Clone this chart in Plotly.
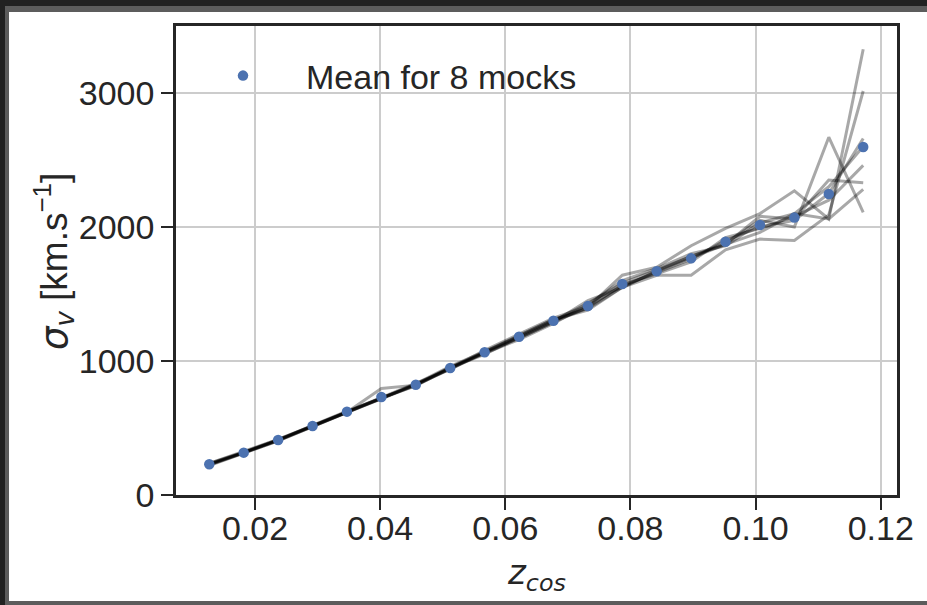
import plotly.graph_objects as go

# Redshift bins (cosmological redshift)
z_cos = [0.0127, 0.0182, 0.0237, 0.0292, 0.0347, 0.0402, 0.0457, 0.0512, 0.0567, 0.0622,
         0.0677, 0.0732, 0.0787, 0.0842, 0.0897, 0.0952, 0.1007, 0.1062, 0.1117, 0.1172]

# Velocity dispersion per mock [km/s]
mock_1 = [220, 310, 405, 512, 618, 795, 820, 940, 1060, 1170, 1290, 1400, 1640, 1700, 1860, 1990, 2100, 2270, 2060, 3326]
mock_2 = [235, 320, 415, 518, 622, 720, 830, 960, 1070, 1190, 1310, 1380, 1550, 1640, 1640, 1830, 1910, 1900, 2090, 3015]
mock_3 = [225, 315, 410, 510, 615, 725, 815, 950, 1050, 1180, 1300, 1430, 1580, 1680, 1780, 1880, 2050, 2000, 2670, 2110]
mock_4 = [230, 318, 408, 520, 625, 722, 825, 945, 1080, 1200, 1320, 1410, 1560, 1660, 1760, 1900, 2000, 2050, 2250, 2660]
mock_5 = [228, 314, 412, 515, 620, 718, 820, 955, 1060, 1160, 1280, 1420, 1600, 1690, 1800, 1860, 2030, 2100, 2300, 2600]
mock_6 = [232, 316, 410, 515, 620, 725, 830, 940, 1070, 1180, 1300, 1400, 1570, 1650, 1740, 1920, 1990, 2080, 2200, 2460]
mock_7 = [226, 312, 405, 512, 618, 722, 825, 950, 1065, 1190, 1310, 1390, 1550, 1670, 1770, 1870, 2080, 2060, 2350, 2330]
mock_8 = [236, 323, 415, 518, 622, 723, 820, 945, 1065, 1170, 1290, 1450, 1550, 1670, 1780, 1870, 1960, 2100, 2060, 2280]
mocks = [mock_1, mock_2, mock_3, mock_4, mock_5, mock_6, mock_7, mock_8]

# Mean over the mocks
sigma_mean = [229, 316, 410, 515, 622, 731, 823, 948, 1065, 1181, 1301, 1410, 1575, 1670, 1766, 1890, 2015, 2070, 2246, 2597]

x_ticks = [0.02, 0.04, 0.06, 0.08, 0.10, 0.12]
y_ticks = [0, 1000, 2000, 3000]

W, H = 927, 605
L, R, T, B = 176, 30, 26, 110
PW, PH = W - L - R, H - T - B


def px(x):
    return (x - L) / PW


def py(y):
    return (H - B - y) / PH


INK = "#262626"
SANS = "Liberation Sans, Arial, Helvetica, sans-serif"
MATH = "DejaVu Sans"
FS = 34

fig = go.Figure()

for m in mocks:
    fig.add_trace(go.Scatter(
        x=z_cos, y=m, mode="lines",
        line=dict(color="rgba(0,0,0,0.34)", width=3),
        showlegend=False, hoverinfo="skip",
    ))

fig.add_trace(go.Scatter(
    x=z_cos, y=sigma_mean, mode="markers",
    marker=dict(color="#4c72b0", size=10.5),
    name="Mean for 8 mocks",
))

axis_common = dict(
    showline=True, mirror=True, linecolor=INK, linewidth=2.5,
    showgrid=True, gridcolor="#cccccc", gridwidth=1.6,
    ticks="outside", ticklen=12, tickwidth=2, tickcolor=INK,
    tickfont=dict(family=SANS, size=FS, color=INK),
    zeroline=False,
)

fig.update_xaxes(range=[0.00738, 0.1226], tickvals=x_ticks, tickformat=".2f",
                 ticklabelstandoff=-11, **axis_common)
fig.update_yaxes(range=[0, 3500], tickvals=y_ticks, **axis_common)

fig.update_layout(
    width=W, height=H,
    margin=dict(l=L, r=R, t=T, b=B, pad=0),
    paper_bgcolor="#212121",
    plot_bgcolor="white",
    showlegend=True,
    legend=dict(
        x=px(180), y=py(47), xanchor="left", yanchor="top",
        bgcolor="rgba(0,0,0,0)", borderwidth=0,
        font=dict(family=SANS, size=FS, color=INK),
        itemwidth=116,
    ),
    shapes=[
        dict(type="rect", xref="paper", yref="paper", layer="below",
             x0=px(5), x1=px(W), y0=py(6), y1=py(H),
             fillcolor="#5c5c5c", line=dict(width=0)),
        dict(type="rect", xref="paper", yref="paper", layer="below",
             x0=px(9), x1=px(W), y0=py(12), y1=py(601),
             fillcolor="white", line=dict(width=0)),
    ],
    annotations=[
        dict(xref="paper", yref="paper", x=px(536), y=py(574),
             xanchor="center", yanchor="middle",
             text=f"<span style='font-family:{MATH}'><i>z<sub>cos</sub></i></span>",
             showarrow=False, font=dict(family=SANS, size=FS, color=INK)),
        dict(xref="paper", yref="paper", x=px(54), y=py(262), textangle=-90,
             xanchor="center", yanchor="middle",
             text=f"<span style='font-family:{MATH}'><i>σ<sub>v</sub></i></span> [km.s<sup>−1</sup>]",
             showarrow=False, font=dict(family=SANS, size=37, color=INK)),
    ],
)

fig.write_html("out.html")
